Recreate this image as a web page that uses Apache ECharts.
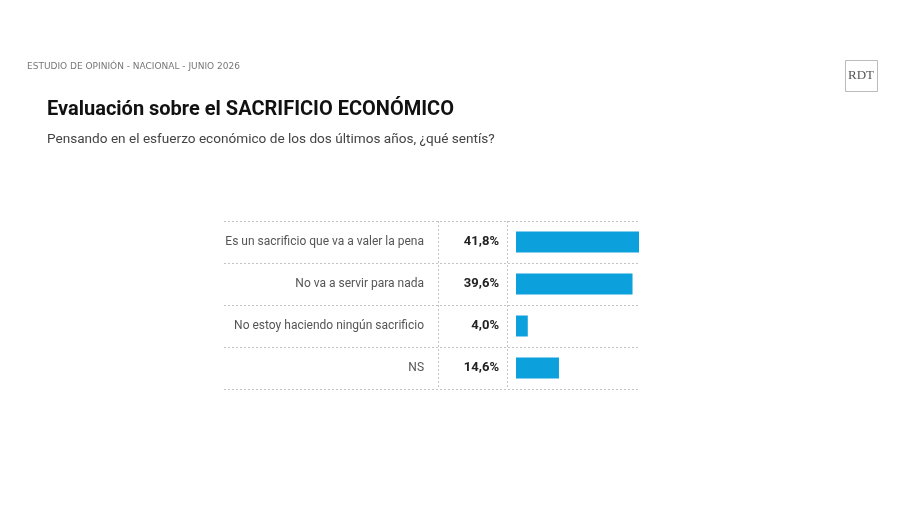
<!DOCTYPE html>
<html><head><meta charset="utf-8">
<script src="https://cdn.jsdelivr.net/npm/echarts@6/dist/echarts.min.js"></script>
<style>html,body{margin:0;padding:0;background:#fff}#c{width:900px;height:505px}</style>
</head><body><div id="c"></div>
<script>
const categories = ["Es un sacrificio que va a valer la pena","No va a servir para nada","No estoy haciendo ningún sacrificio","NS"];
const values = [41.8, 39.6, 4.0, 14.6];
const headerText = "ESTUDIO DE OPINIÓN - NACIONAL - JUNIO 2026";
const titleText = "Evaluación sobre el SACRIFICIO ECONÓMICO";
const subtitleText = "Pensando en el esfuerzo económico de los dos últimos años, ¿qué sentís?";

const fmt = v => v.toFixed(1).replace('.', ',') + '%';
const chart = echarts.init(document.getElementById('c'), null, {renderer:'canvas'});
const dot = {color:'#c4c4c4', type:[2,2], width:1};
chart.setOption({
  animation:false,
  textStyle:{fontFamily:'Roboto'},
  grid:[
    {left:224, width:415, top:221, height:168},
    {left:516, width:123, top:221, height:168}
  ],
  xAxis:[
    {gridIndex:0, type:'value', show:false, min:0, max:1},
    {gridIndex:1, type:'value', show:false, min:0, max:41.8}
  ],
  yAxis:[
    {gridIndex:0, type:'category', data:categories, inverse:true,
     axisLine:{show:false}, axisTick:{show:false}, axisLabel:{show:false},
     splitLine:{show:true, lineStyle:dot}},
    {gridIndex:1, type:'category', data:categories, inverse:true,
     axisLine:{show:false}, axisTick:{show:false},
     axisLabel:{margin:92, fontSize:12, color:'#555', fontFamily:'Roboto'},
     splitLine:{show:false}}
  ],
  series:[{
    type:'bar', xAxisIndex:1, yAxisIndex:1, data:values,
    barWidth:21,
    itemStyle:{color:'#0ca0dc'},
    label:{show:true, position:'left', distance:17, formatter:p=>fmt(p.value),
      fontSize:13, fontWeight:'bold', color:'#222', fontFamily:'Roboto'}
  }],
  graphic:[
    {type:'text', left:27, top:62, style:{text:headerText, fontSize:9, fontFamily:'DejaVu Sans', fill:'#777'}},
    {type:'text', left:47, top:100, style:{text:titleText, fontSize:20, fontWeight:'bold', fontFamily:'Roboto', fill:'#111'}},
    {type:'text', left:47, top:133, style:{text:subtitleText, fontSize:13.6, fontFamily:'Roboto', fill:'#444'}},
    {type:'rect', shape:{x:845.5, y:60.5, width:32, height:31}, style:{fill:'none', stroke:'#bbb', lineWidth:1}},
    {type:'text', x:861, y:76, style:{text:'RDT', fontSize:13, fontFamily:'Liberation Serif', fill:'#555', align:'center', verticalAlign:'middle'}},
    {type:'line', shape:{x1:438.5, y1:221, x2:438.5, y2:389}, style:{stroke:'#c4c4c4', lineDash:[2,2], lineWidth:1}},
    {type:'line', shape:{x1:507.5, y1:221, x2:507.5, y2:389}, style:{stroke:'#c4c4c4', lineDash:[2,2], lineWidth:1}}
  ]
});
</script></body></html>
